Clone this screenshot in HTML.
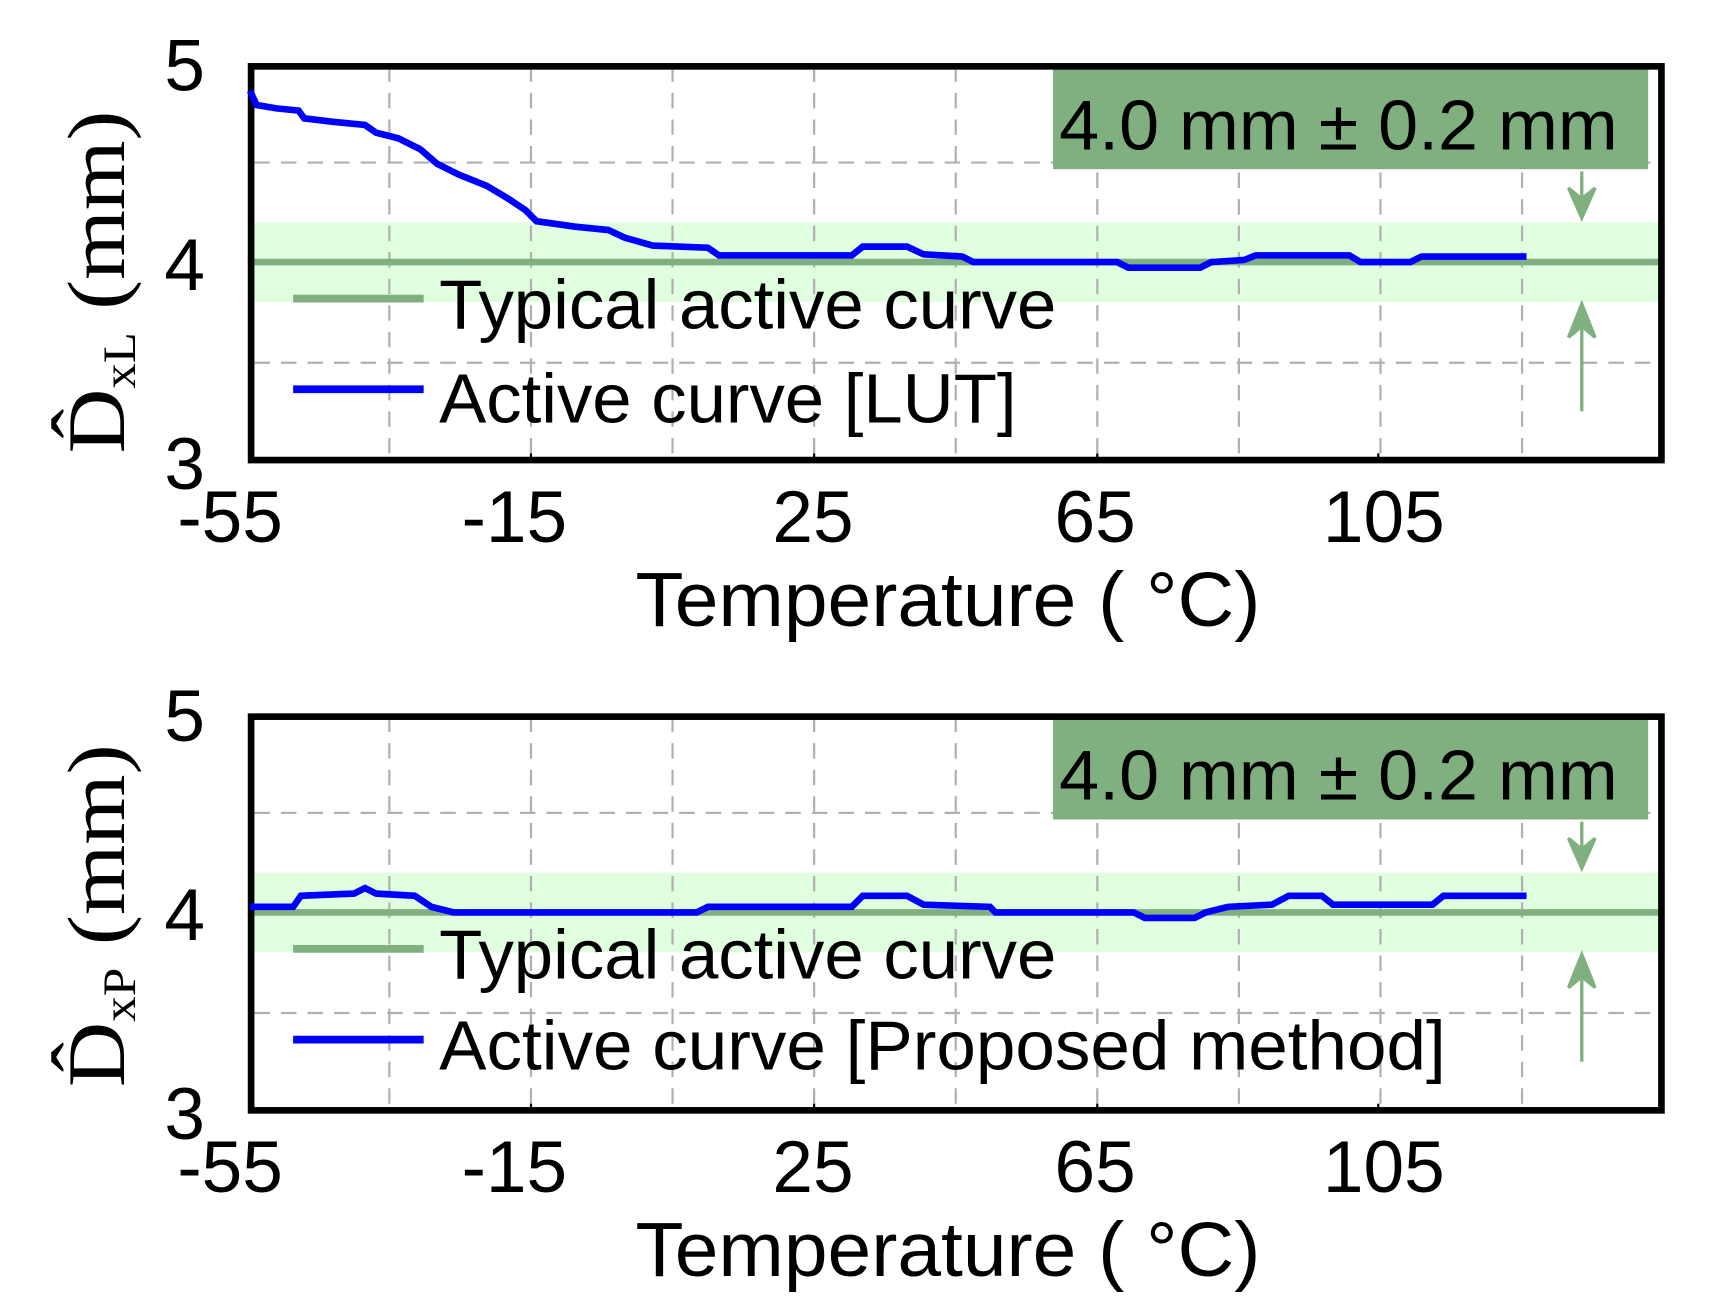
<!DOCTYPE html>
<html><head><style>html,body{margin:0;padding:0;background:#fff;}svg{display:block;}</style></head>
<body>
<svg width="1709" height="1305" viewBox="0 0 1545 1180" preserveAspectRatio="none" xmlns="http://www.w3.org/2000/svg" font-family="Liberation Sans, sans-serif">
<defs>
<g id="grid">
<rect x="224" y="201" width="1281" height="72" fill="#dfffdf"/>
<g stroke="#b0b0b0" stroke-width="2" stroke-dasharray="14,10">
<line x1="352" y1="60" x2="352" y2="415"/><line x1="480" y1="60" x2="480" y2="415"/>
<line x1="608" y1="60" x2="608" y2="415"/><line x1="736" y1="60" x2="736" y2="415"/>
<line x1="864" y1="60" x2="864" y2="415"/><line x1="992" y1="60" x2="992" y2="415"/>
<line x1="1120" y1="60" x2="1120" y2="415"/><line x1="1248" y1="60" x2="1248" y2="415"/>
<line x1="1376" y1="60" x2="1376" y2="415"/>
<line x1="230" y1="147" x2="1500" y2="147"/><line x1="230" y1="328" x2="1500" y2="328"/>
</g>
<line x1="224" y1="237" x2="1502" y2="237" stroke="#80b080" stroke-width="6"/>
<rect x="952" y="62" width="538" height="91" fill="#80b080"/>
<text x="1210" y="135" font-size="64" text-anchor="middle" textLength="505" lengthAdjust="spacingAndGlyphs" fill="#000">4.0 mm ± 0.2 mm</text>
<g stroke="#80b080" stroke-width="3" fill="#80b080">
<line x1="1430" y1="155" x2="1430" y2="195"/><polygon points="1418,170 1430,197 1442,170 1430,180"/>
<line x1="1430" y1="372" x2="1430" y2="278"/><polygon points="1418,305 1430,275 1442,305 1430,295"/>
</g>
<line x1="265" y1="270" x2="383" y2="270" stroke="#80b080" stroke-width="7"/>
<line x1="265" y1="352" x2="383" y2="352" stroke="#0000ff" stroke-width="7"/>
<text x="397" y="297" font-size="63" textLength="558" lengthAdjust="spacingAndGlyphs">Typical active curve</text>
<g font-size="66" text-anchor="middle">
<text x="167" y="82">5</text><text x="167" y="262">4</text><text x="167" y="442">3</text>
<text x="208" y="490">-55</text><text x="465" y="490">-15</text><text x="735" y="490">25</text>
<text x="990" y="490">65</text><text x="1251" y="490">105</text>
</g>
<text x="857" y="566" font-size="70" text-anchor="middle" textLength="565" lengthAdjust="spacingAndGlyphs">Temperature ( °C)</text>
<g stroke="#000" stroke-width="2"><line x1="480" y1="410" x2="480" y2="418"/><line x1="736" y1="410" x2="736" y2="418"/><line x1="992" y1="410" x2="992" y2="418"/><line x1="1246" y1="410" x2="1246" y2="418"/></g>
</g>
</defs>
<use href="#grid"/>
<rect x="227" y="60" width="1275" height="356" fill="none" stroke="#000" stroke-width="6"/>
<polyline fill="none" stroke="#0000ff" stroke-width="6" points="226,82 232,95 250,98 270,100 275,107 300,110 330,113 340,120 360,125 380,135 395,148 415,158 440,168 460,180 475,190 485,200 520,205 550,208 565,215 590,222 640,224 650,231 770,231 780,223 820,223 835,230 870,232 880,237 1010,237 1020,242 1085,242 1095,237 1125,235 1135,231 1220,231 1230,237 1275,237 1285,232 1380,232"/>
<text x="397" y="382" font-size="63" textLength="522" lengthAdjust="spacingAndGlyphs">Active curve [LUT]</text>
<text transform="translate(112,410) rotate(-90)" font-family="Liberation Serif, serif" font-size="74" textLength="310" lengthAdjust="spacingAndGlyphs">D̂<tspan font-size="42" dy="10">xL</tspan><tspan dy="-10"> (mm)</tspan></text>

<g transform="translate(0,588)">
<use href="#grid"/>
<rect x="227" y="60" width="1275" height="356" fill="none" stroke="#000" stroke-width="6"/>
<polyline fill="none" stroke="#0000ff" stroke-width="6" points="226,232 265,232 272,222 320,220 330,215 340,220 375,222 390,232 410,237 630,237 640,232 770,232 780,222 820,222 835,230 895,232 900,237 1025,237 1035,242 1080,242 1090,237 1110,232 1150,230 1165,222 1195,222 1205,230 1295,230 1305,222 1380,222"/>
<text x="397" y="379" font-size="63" textLength="910" lengthAdjust="spacingAndGlyphs">Active curve [Proposed method]</text>
<text transform="translate(112,395) rotate(-90)" font-family="Liberation Serif, serif" font-size="74" textLength="310" lengthAdjust="spacingAndGlyphs">D̂<tspan font-size="42" dy="10">xP</tspan><tspan dy="-10"> (mm)</tspan></text>
</g>
</svg>
</body></html>
